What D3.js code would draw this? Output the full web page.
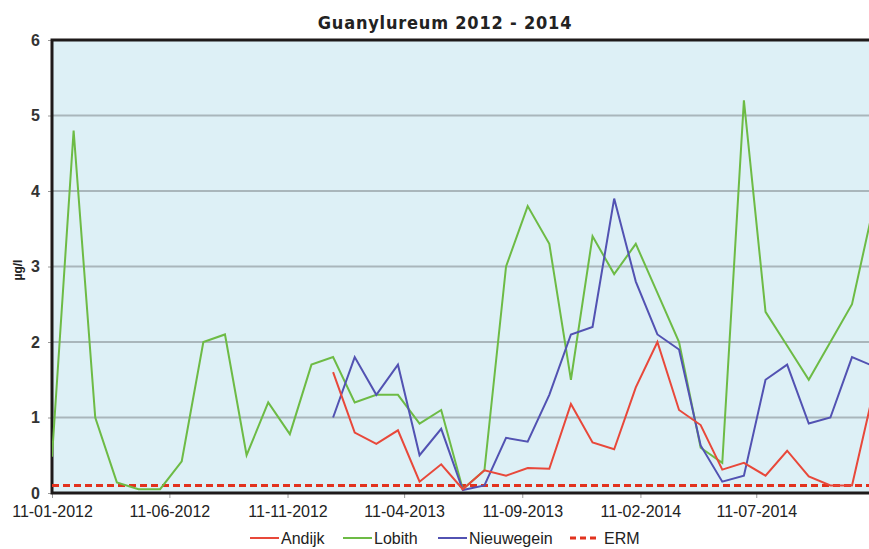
<!DOCTYPE html>
<html>
<head>
<meta charset="utf-8">
<script src="https://cdn.jsdelivr.net/npm/d3@7"></script>
<style>
  body { margin: 0; background: #fff; }
  svg { display: block; }
</style>
</head>
<body>
<div id="chart"></div>
<script>
'use strict';

// sampling dates (4-weekly)
const dates = [
  "2012-01-11","2012-02-08","2012-03-07","2012-04-04","2012-05-02","2012-05-30",
  "2012-06-27","2012-07-25","2012-08-22","2012-09-19","2012-10-17","2012-11-14",
  "2012-12-12","2013-01-09","2013-02-06","2013-03-06","2013-04-03","2013-05-01",
  "2013-05-29","2013-06-26","2013-07-24","2013-08-21","2013-09-18","2013-10-16",
  "2013-11-13","2013-12-11","2014-01-08","2014-02-05","2014-03-05","2014-04-02",
  "2014-04-30","2014-05-28","2014-06-25","2014-07-23","2014-08-20","2014-09-17",
  "2014-10-15","2014-11-12","2014-12-10"
];

const lobith = [
  0.48, 4.8, 1.0, 0.14, 0.05, 0.05, 0.42, 2.0, 2.1, 0.5, 1.2, 0.78,
  1.7, 1.8, 1.2, 1.3, 1.3, 0.92, 1.1, 0.05, 0.3, 3.0, 3.8, 3.3,
  1.5, 3.4, 2.9, 3.3, 2.65, 2.0, 0.6, 0.4, 5.2, 2.4, 1.95, 1.5,
  2.0, 2.5, 3.8
];

// null = not measured
const andijk = [
  null, null, null, null, null, null, null, null, null, null, null, null,
  null, 1.6, 0.8, 0.65, 0.83, 0.15, 0.38, 0.05, 0.3, 0.23, 0.33, 0.32,
  1.18, 0.67, 0.58, 1.4, 2.0, 1.1, 0.9, 0.31, 0.4, 0.23, 0.56, 0.22,
  0.1, 0.1, 1.35
];

const nieuwegein = [
  null, null, null, null, null, null, null, null, null, null, null, null,
  null, 1.0, 1.8, 1.3, 1.7, 0.5, 0.85, 0.04, 0.1, 0.73, 0.68, 1.3,
  2.1, 2.2, 3.9, 2.8, 2.1, 1.9, 0.63, 0.15, 0.23, 1.5, 1.7, 0.92,
  1.0, 1.8, 1.68
];

const ermValue = 0.1;

const tickDates = ["2012-01-11","2012-06-11","2012-11-11","2013-04-11","2013-09-11","2014-02-11","2014-07-11"];
const yTicks = [0, 1, 2, 3, 4, 5, 6];

const seriesNames = ["Andijk", "Lobith", "Nieuwegein"];
const seriesColors = ["#e8483a", "#6dbb45", "#5252b2"];

var width = 869, height = 549;
var plot = {left: 52, right: 869, top: 40, bottom: 493};

var parse = d3.utcParse("%Y-%m-%d");
var fmt = d3.utcFormat("%d-%m-%Y");

var svg = d3.select("#chart").append("svg")
  .attr("width", width)
  .attr("height", height);

var x = d3.scaleUtc()
  .domain([parse("2012-01-11"), parse("2014-12-04")])
  .range([plot.left, plot.right]);

var y = d3.scaleLinear()
  .domain([0, 6])
  .range([plot.bottom, plot.top]);

// plot background
svg.append("rect")
  .attr("x", plot.left).attr("y", plot.top)
  .attr("width", plot.right - plot.left)
  .attr("height", plot.bottom - plot.top)
  .attr("fill", "#ddf0f6");

svg.append("clipPath").attr("id", "clip")
  .append("rect")
  .attr("x", plot.left).attr("y", plot.top - 5)
  .attr("width", plot.right - plot.left)
  .attr("height", plot.bottom - plot.top + 10);

// gridlines
svg.append("g")
  .selectAll("line")
  .data(yTicks.filter(d => d > 0 && d < 6))
  .join("line")
  .attr("x1", plot.left).attr("x2", plot.right)
  .attr("y1", d => y(d)).attr("y2", d => y(d))
  .attr("stroke", "#a9b6bb")
  .attr("stroke-width", 2);

// y axis
var yAxis = svg.append("g")
  .attr("transform", "translate(" + plot.left + ",0)")
  .call(d3.axisLeft(y).tickValues(yTicks).tickSize(4).tickPadding(8).tickFormat(d3.format("d")));
yAxis.select(".domain").remove();
yAxis.selectAll(".tick line").attr("stroke", "#999");
yAxis.selectAll("text")
  .attr("font-family", "Liberation Sans, Arial, sans-serif")
  .attr("font-size", 16)
  .attr("font-weight", "bold")
  .attr("fill", "#333");

// x axis
var xAxis = svg.append("g")
  .attr("transform", "translate(0," + plot.bottom + ")")
  .call(d3.axisBottom(x).tickValues(tickDates.map(parse)).tickSize(5).tickPadding(8).tickFormat(fmt));
xAxis.select(".domain").remove();
xAxis.selectAll(".tick line").attr("stroke", "#999");
xAxis.selectAll("text")
  .attr("font-family", "Liberation Sans, Arial, sans-serif")
  .attr("font-size", 16)
  .attr("fill", "#222");

// frame: thick top, left and bottom
svg.append("path")
  .attr("d", "M" + plot.right + "," + plot.top + "H" + plot.left + "V" + plot.bottom + "H" + plot.right)
  .attr("fill", "none")
  .attr("stroke", "#1e1a1a")
  .attr("stroke-width", 3);

// series lines
var line = d3.line()
  .defined(d => d.v != null)
  .x(d => x(d.date))
  .y(d => y(d.v));

var allSeries = [andijk, lobith, nieuwegein];
var lines = svg.append("g").attr("clip-path", "url(#clip)");

// ERM norm
lines.append("line")
  .attr("x1", plot.left).attr("x2", plot.right)
  .attr("y1", y(ermValue)).attr("y2", y(ermValue))
  .attr("stroke", "#e2321e")
  .attr("stroke-width", 3)
  .attr("stroke-dasharray", "7,4");

[1, 2, 0].forEach(function(i) {
  var pts = dates.map((d, k) => ({date: parse(d), v: allSeries[i][k]}));
  lines.append("path")
    .datum(pts)
    .attr("d", line)
    .attr("fill", "none")
    .attr("stroke", seriesColors[i])
    .attr("stroke-width", 2)
    .attr("stroke-linejoin", "miter");
});

// title
svg.append("text")
  .attr("x", 445).attr("y", 29)
  .attr("text-anchor", "middle")
  .attr("font-family", "DejaVu Sans Condensed, DejaVu Sans, sans-serif")
  .attr("font-weight", "bold")
  .attr("font-size", 18)
  .attr("letter-spacing", 0.8)
  .attr("fill", "#222")
  .text("Guanylureum 2012 - 2014");

// y label
svg.append("text")
  .attr("transform", "translate(22,270) rotate(-90)")
  .attr("text-anchor", "middle")
  .attr("font-family", "Liberation Sans, Arial, sans-serif")
  .attr("font-weight", "bold")
  .attr("font-size", 12)
  .attr("fill", "#222")
  .text("µg/l");

// legend
var legendItems = [
  {name: seriesNames[0], color: seriesColors[0], x: 250, dash: null},
  {name: seriesNames[1], color: seriesColors[1], x: 343, dash: null},
  {name: seriesNames[2], color: seriesColors[2], x: 438, dash: null},
  {name: "ERM", color: "#e2321e", x: 570, dash: "6,4"}
];
var legend = svg.append("g");
var li = legend.selectAll("g").data(legendItems).join("g")
  .attr("transform", d => "translate(" + d.x + ",538)");
li.append("line")
  .attr("x1", 0).attr("x2", 29)
  .attr("stroke", d => d.color)
  .attr("stroke-width", d => d.dash ? 3 : 2)
  .attr("stroke-dasharray", d => d.dash);
li.append("text")
  .attr("x", d => d.dash ? 34 : 31)
  .attr("dy", "0.35em")
  .attr("font-family", "Liberation Sans, Arial, sans-serif")
  .attr("font-size", 16)
  .attr("fill", "#222")
  .text(d => d.name);
</script>
</body>
</html>
